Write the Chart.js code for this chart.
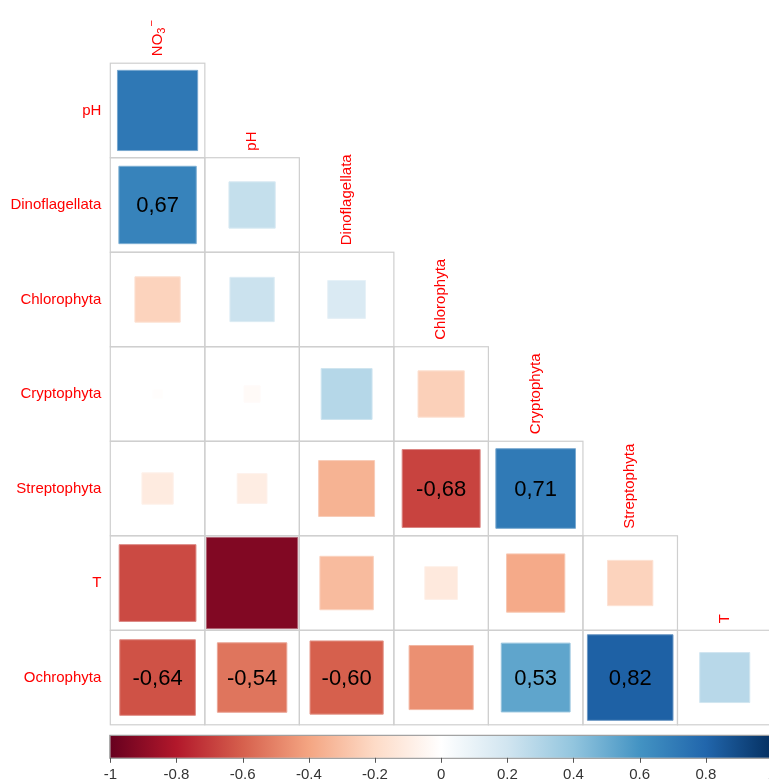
<!DOCTYPE html>
<html>
<head>
<meta charset="utf-8">
<script src="https://cdn.jsdelivr.net/npm/chart.js@4"></script>
<style>
  html, body { margin: 0; padding: 0; background: #fff; overflow: hidden; }
  #wrap { width: 772px; height: 783px; }
</style>
</head>
<body>
<div id="wrap"><canvas id="myChart" width="772" height="783"></canvas></div>
<script>
// row / column variables of the lower triangle
const rowLabels = ['pH', 'Dinoflagellata', 'Chlorophyta', 'Cryptophyta', 'Streptophyta', 'T', 'Ochrophyta'];
const colLabels = ['NO3', 'pH', 'Dinoflagellata', 'Chlorophyta', 'Cryptophyta', 'Streptophyta', 'T'];

// correlations, row i holds columns 0..i
const corr = [
  [0.72],
  [0.67, 0.24],
  [-0.23, 0.22, 0.16],
  [-0.01, -0.03, 0.29, -0.24],
  [-0.11, -0.10, -0.35, -0.68, 0.71],
  [-0.66, -0.93, -0.32, -0.12, -0.38, -0.23],
  [-0.64, -0.54, -0.60, -0.46, 0.53, 0.82, 0.28]
];

// cells that get their coefficient written in
const labelled = [[1, 0], [4, 3], [4, 4], [6, 0], [6, 1], [6, 2], [6, 4], [6, 5]];

// colour bar ticks
const barTicks = [-1, -0.8, -0.6, -0.4, -0.2, 0, 0.2, 0.4, 0.6, 0.8, 1];

// RdBu ramp from -1 to 1
const ramp = ['#67001F', '#B2182B', '#D6604D', '#F4A582', '#FDDBC7', '#FFFFFF',
              '#D1E5F0', '#92C5DE', '#4393C3', '#2166AC', '#053061'];

function hexRgb(h) {
  return [parseInt(h.slice(1, 3), 16), parseInt(h.slice(3, 5), 16), parseInt(h.slice(5, 7), 16)];
}

function colorFor(v, mixWhite) {
  const t = Math.min(Math.max((v + 1) / 2, 0), 1) * (ramp.length - 1);
  const i = Math.min(Math.floor(t), ramp.length - 2);
  const f = t - i;
  const a = hexRgb(ramp[i]), b = hexRgb(ramp[i + 1]);
  let c = a.map((x, k) => x + (b[k] - x) * f);
  if (mixWhite) c = c.map(x => x + (255 - x) * mixWhite);
  return 'rgb(' + c.map(Math.round).join(',') + ')';
}

const points = [];
corr.forEach((row, i) => row.forEach((v, j) => points.push({ x: j, y: i, v: v })));

const cellSize = (chart) => {
  const s = chart.scales.x;
  return Math.abs(s.getPixelForValue(1) - s.getPixelForValue(0));
};

const labelFont = '15px "Liberation Sans", Arial, sans-serif';

// cell outlines of the triangle
const gridCells = {
  id: 'gridCells',
  beforeDatasetsDraw(chart) {
    const { ctx, scales: { x, y } } = chart;
    ctx.save();
    ctx.strokeStyle = '#cfcfcf';
    ctx.lineWidth = 1.2;
    corr.forEach((row, i) => row.forEach((v, j) => {
      const l = x.getPixelForValue(j - 0.5), r = x.getPixelForValue(j + 0.5);
      const t = y.getPixelForValue(i - 0.5), b = y.getPixelForValue(i + 0.5);
      ctx.strokeRect(l, t, r - l, b - t);
    }));
    ctx.restore();
  }
};

// coefficients written on the squares
const cellValues = {
  id: 'cellValues',
  afterDatasetsDraw(chart) {
    const { ctx } = chart;
    const meta = chart.getDatasetMeta(0);
    ctx.save();
    ctx.font = '22px "Liberation Sans", Arial, sans-serif';
    ctx.fillStyle = '#000';
    ctx.textAlign = 'center';
    ctx.textBaseline = 'middle';
    labelled.forEach(([i, j]) => {
      const idx = points.findIndex(p => p.x === j && p.y === i);
      const el = meta.data[idx];
      ctx.fillText(points[idx].v.toFixed(2).replace('.', ','), el.x, el.y + 1);
    });
    ctx.restore();
  }
};

// red variable names, rows on the left, columns above the diagonal
const varLabels = {
  id: 'varLabels',
  afterDraw(chart) {
    const { ctx, scales: { x, y } } = chart;
    ctx.save();
    ctx.fillStyle = '#ff0000';
    ctx.font = labelFont;
    ctx.textAlign = 'right';
    ctx.textBaseline = 'middle';
    rowLabels.forEach((name, i) => {
      ctx.fillText(name, x.left - 9, y.getPixelForValue(i));
    });
    colLabels.forEach((name, j) => {
      const cx = x.getPixelForValue(j);
      const by = y.getPixelForValue(j - 0.5) - 7;
      ctx.save();
      ctx.translate(cx, by);
      ctx.rotate(-Math.PI / 2);
      ctx.textAlign = 'left';
      ctx.textBaseline = 'middle';
      ctx.font = labelFont;
      if (name === 'NO3') {
        ctx.fillText('NO', 0, 0);
        const w = ctx.measureText('NO').width;
        ctx.font = '11px "Liberation Sans", Arial, sans-serif';
        ctx.fillText('3', w, 4);
        const w3 = ctx.measureText('3').width;
        ctx.fillText('\u2212', w + w3 + 1, -6);
      } else {
        ctx.fillText(name, 0, 0);
      }
      ctx.restore();
    });
    ctx.restore();
  }
};

// gradient strip drawn along the colour bar axis
const colorBar = {
  id: 'colorBar',
  afterDraw(chart) {
    const { ctx } = chart;
    const cb = chart.scales.cb;
    const l = cb.getPixelForValue(-1), r = cb.getPixelForValue(1);
    const top = cb.top + 11, h = 22;
    const grad = ctx.createLinearGradient(l, 0, r, 0);
    ramp.forEach((c, k) => grad.addColorStop(k / (ramp.length - 1), c));
    ctx.save();
    ctx.fillStyle = grad;
    ctx.fillRect(l, top, r - l, h);
    ctx.strokeStyle = '#8c8c8c';
    ctx.lineWidth = 1;
    ctx.strokeRect(l - 0.5, top - 0.5, r - l + 1, h + 1);
    ctx.strokeStyle = '#555';
    cb.ticks.forEach(t => {
      const px = Math.round(cb.getPixelForValue(t.value)) + 0.5;
      ctx.beginPath();
      ctx.moveTo(px, top + h);
      ctx.lineTo(px, top + h + 5);
      ctx.stroke();
    });
    ctx.restore();
  }
};

const config = {
  type: 'scatter',
  data: {
    datasets: [{
      data: points,
      pointStyle: 'rect',
      pointRadius: (c) => {
        const v = c.raw ? c.raw.v : 0;
        return Math.sqrt(Math.abs(v)) * cellSize(c.chart) / Math.SQRT2;
      },
      backgroundColor: (c) => colorFor(c.raw ? c.raw.v : 0),
      borderColor: (c) => colorFor(c.raw ? c.raw.v : 0, 0.35),
      borderWidth: 1
    }]
  },
  options: {
    responsive: false,
    animation: false,
    events: [],
    layout: { padding: { left: 110.3, top: 63.2, right: 0, bottom: 0 } },
    plugins: { legend: { display: false }, tooltip: { enabled: false } },
    scales: {
      x: { type: 'linear', min: -0.5, max: 6.5, display: false },
      y: { type: 'linear', min: -0.5, max: 6.5, reverse: true, display: false },
      cb: {
        type: 'linear', axis: 'x', position: 'bottom', min: -1, max: 1,
        afterBuildTicks: (s) => { s.ticks = barTicks.map(v => ({ value: v })); },
        afterFit: (s) => { s.paddingLeft = 0; s.paddingRight = 0; s.height = 58.2; },
        grid: { display: false, drawTicks: false },
        border: { display: false },
        ticks: {
          padding: 41,
          color: '#333',
          autoSkip: false,
          maxRotation: 0,
          font: { family: '"Liberation Sans", Arial, sans-serif', size: 15 },
          callback: (v) => String(v)
        }
      }
    }
  },
  plugins: [gridCells, cellValues, varLabels, colorBar]
};

const myChart = new Chart(document.getElementById('myChart'), config);
</script>
</body>
</html>
